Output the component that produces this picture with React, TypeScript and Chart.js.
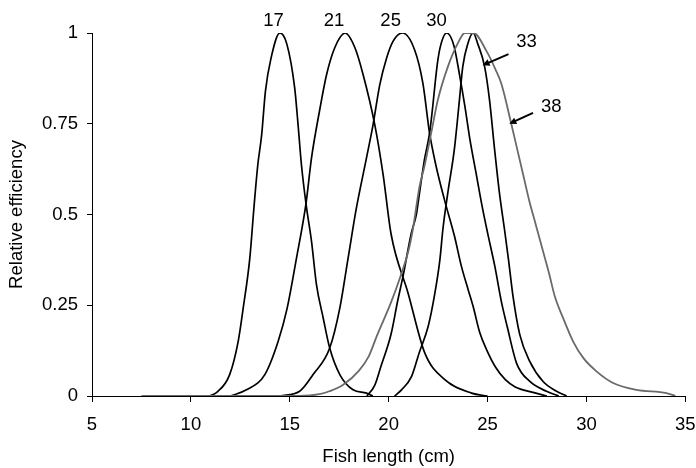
import React, { useEffect, useRef } from "react";
import { Chart, registerables } from "chart.js";
Chart.register(...registerables);

// Fish length (cm) and relative efficiency, per mesh size
const len17 = [10.5, 10.8, 11.37, 11.96, 12.39, 12.64, 12.98, 13.19, 13.38, 13.58, 13.77, 14.05, 14.5, 14.86, 15.25, 15.42, 15.59, 15.82, 16.1, 16.35, 16.69, 17.02, 17.53, 18.2, 18.88, 19.2];
const eff17 = [0, 0, 0.013, 0.059, 0.15, 0.24, 0.38, 0.52, 0.635, 0.72, 0.84, 0.93, 1.0, 0.968, 0.848, 0.747, 0.637, 0.53, 0.426, 0.307, 0.215, 0.132, 0.059, 0.017, 0.008, 0];

const len21 = [12.0, 12.81, 13.74, 14.41, 14.86, 15.34, 15.82, 16.1, 16.52, 16.86, 17.28, 17.8, 18.29, 18.71, 19.3, 19.72, 20.12, 20.98, 21.83, 22.84, 24.19, 25.0];
const eff21 = [0, 0.017, 0.059, 0.15, 0.24, 0.38, 0.53, 0.656, 0.79, 0.885, 0.96, 1.0, 0.96, 0.885, 0.747, 0.61, 0.447, 0.284, 0.118, 0.045, 0.008, 0];

const len25 = [14.5, 15.5, 16.18, 17.02, 17.53, 17.95, 18.37, 18.88, 19.21, 19.55, 19.89, 20.22, 20.7, 21.31, 21.73, 22.07, 22.4, 22.82, 23.33, 23.68, 24.02, 24.27, 24.61, 24.95, 25.4, 25.9, 26.4, 27.3, 28.0];
const eff25 = [0, 0.013, 0.059, 0.132, 0.242, 0.38, 0.518, 0.656, 0.747, 0.857, 0.93, 0.977, 1.0, 0.954, 0.862, 0.724, 0.633, 0.541, 0.44, 0.357, 0.293, 0.247, 0.174, 0.128, 0.08, 0.045, 0.025, 0.01, 0];

const len30 = [18.9, 19.3, 19.6, 20.12, 20.46, 20.72, 21.14, 21.4, 21.56, 21.81, 22.07, 22.23, 22.35, 22.49, 22.65, 22.93, 23.3, 23.6, 23.85, 24.1, 24.4, 24.7, 25.0, 25.37, 25.7, 26.0, 26.47, 27.14, 27.98, 28.6];
const eff30 = [0, 0.03, 0.08, 0.17, 0.263, 0.328, 0.447, 0.5, 0.559, 0.651, 0.724, 0.798, 0.862, 0.926, 0.97, 1.0, 0.965, 0.88, 0.8, 0.71, 0.62, 0.53, 0.45, 0.357, 0.26, 0.19, 0.09, 0.04, 0.013, 0];

const len33 = [20.3, 20.65, 21.16, 21.55, 22.0, 22.34, 22.59, 22.74, 22.99, 23.33, 23.58, 23.75, 24.0, 24.27, 24.52, 24.85, 25.1, 25.35, 25.6, 25.86, 26.05, 26.3, 26.63, 27.14, 27.81, 28.49, 29.0];
const eff33 = [0, 0.017, 0.054, 0.12, 0.192, 0.284, 0.375, 0.458, 0.559, 0.683, 0.816, 0.908, 0.97, 1.0, 0.968, 0.908, 0.816, 0.683, 0.56, 0.458, 0.38, 0.27, 0.169, 0.095, 0.04, 0.013, 0];

const len38 = [7.5, 15.5, 16.5, 17.0, 17.7, 18.5, 19.0, 19.4, 20.1, 20.6, 21.0, 21.22, 21.56, 21.81, 22.15, 22.49, 23.0, 23.5, 23.85, 24.3, 24.95, 25.4, 25.7, 26.2, 26.5, 26.8, 27.1, 27.45, 27.8, 28.1, 28.4, 28.82, 29.33, 29.84, 30.51, 31.35, 32.54, 34.05, 34.5];
const eff38 = [0, 0, 0.005, 0.013, 0.031, 0.07, 0.11, 0.165, 0.255, 0.33, 0.4, 0.458, 0.577, 0.633, 0.724, 0.816, 0.908, 0.972, 1.0, 1.0, 0.95, 0.9, 0.86, 0.75, 0.68, 0.61, 0.54, 0.47, 0.4, 0.34, 0.275, 0.215, 0.15, 0.105, 0.068, 0.036, 0.017, 0.008, 0];

const xTicks = [5, 10, 15, 20, 25, 30, 35];
const yTicks = [0, 0.25, 0.5, 0.75, 1];

// curve labels (text, x, y)
const peakLabels = ["17", "21", "25", "30"];
const peakLabelX = [14.18, 17.24, 20.1, 22.42];
const peakLabelY = [1.032, 1.032, 1.032, 1.032];
const arrowLabels = ["33", "38"];
const arrowLabelX = [26.97, 28.22];
const arrowLabelY = [0.975, 0.796];
const arrowFromX = [26.06, 27.3];
const arrowFromY = [0.942, 0.78];
const arrowToX = [24.75, 26.1];
const arrowToY = [0.911, 0.75];

const FONT = '"Liberation Sans", Arial, sans-serif';
const FS = 18.5;

const toPts = (xs: number[], ys: number[]) => xs.map((x, i) => ({ x, y: ys[i] }));

const annotPlugin = {
  id: "annot",
  afterDatasetsDraw(chart: any) {
    const { ctx, scales } = chart;
    const sx = scales.x;
    const sy = scales.y;
    ctx.save();
    ctx.font = `${FS}px ${FONT}`;
    ctx.fillStyle = "#000";
    ctx.textAlign = "center";
    ctx.textBaseline = "middle";
    peakLabels.forEach((t, i) => {
      ctx.fillText(t, sx.getPixelForValue(peakLabelX[i]), sy.getPixelForValue(peakLabelY[i]));
    });
    arrowLabels.forEach((t, i) => {
      ctx.fillText(t, sx.getPixelForValue(arrowLabelX[i]), sy.getPixelForValue(arrowLabelY[i]));
      const x1 = sx.getPixelForValue(arrowFromX[i]);
      const y1 = sy.getPixelForValue(arrowFromY[i]);
      const x2 = sx.getPixelForValue(arrowToX[i]);
      const y2 = sy.getPixelForValue(arrowToY[i]);
      const ang = Math.atan2(y2 - y1, x2 - x1);
      const hl = 7;
      const hw = 3.5;
      ctx.strokeStyle = "#000";
      ctx.lineWidth = 2;
      ctx.beginPath();
      ctx.moveTo(x1, y1);
      ctx.lineTo(x2 - Math.cos(ang) * hl * 0.8, y2 - Math.sin(ang) * hl * 0.8);
      ctx.stroke();
      ctx.beginPath();
      ctx.moveTo(x2, y2);
      ctx.lineTo(x2 - Math.cos(ang) * hl - Math.sin(ang) * hw, y2 - Math.sin(ang) * hl + Math.cos(ang) * hw);
      ctx.lineTo(x2 - Math.cos(ang) * hl + Math.sin(ang) * hw, y2 - Math.sin(ang) * hl - Math.cos(ang) * hw);
      ctx.closePath();
      ctx.fill();
    });
    ctx.restore();
  },
};

export default function App() {
  const ref = useRef<HTMLCanvasElement | null>(null);
  useEffect(() => {
    if (!ref.current) return;
    const mk = (xs: number[], ys: number[], color: string, w: number) => ({
      data: toPts(xs, ys),
      borderColor: color,
      borderWidth: w,
      pointRadius: 0,
      fill: false,
      cubicInterpolationMode: "monotone" as const,
    });
    const chart = new Chart(ref.current, {
      type: "line",
      data: {
        datasets: [
          mk(len38, eff38, "#6a6a6a", 1.8),
          mk(len17, eff17, "#000", 1.7),
          mk(len21, eff21, "#000", 1.7),
          mk(len25, eff25, "#000", 1.7),
          mk(len30, eff30, "#000", 1.7),
          mk(len33, eff33, "#000", 1.7),
        ],
      },
      options: {
        responsive: false,
        animation: false,
        layout: { padding: { top: 33, right: 10.7, left: 0, bottom: 0 } },
        plugins: { legend: { display: false }, tooltip: { enabled: false } },
        scales: {
          x: {
            type: "linear",
            min: xTicks[0],
            max: xTicks[xTicks.length - 1],
            afterBuildTicks: (s: any) => {
              s.ticks = xTicks.map((v) => ({ value: v }));
            },
            ticks: {
              color: "#000",
              font: { family: FONT, size: FS },
              padding: 12,
              maxRotation: 0,
              callback: (v: any) => String(v),
            },
            grid: { drawOnChartArea: false, drawTicks: true, tickLength: 6, color: "#000" },
            border: { color: "#000", width: 1 },
            title: {
              display: true,
              text: "Fish length (cm)",
              color: "#000",
              font: { family: FONT, size: FS },
              padding: { top: 0, bottom: 0 },
            },
            afterFit: (s: any) => {
              s.height = 72;
              s.paddingLeft = 0;
              s.paddingRight = 0;
            },
          },
          y: {
            type: "linear",
            min: yTicks[0],
            max: yTicks[yTicks.length - 1],
            afterBuildTicks: (s: any) => {
              s.ticks = yTicks.map((v) => ({ value: v }));
            },
            ticks: {
              color: "#000",
              font: { family: FONT, size: FS },
              padding: 9,
              callback: (v: any) => String(v),
            },
            grid: { drawOnChartArea: false, drawTicks: true, tickLength: 5, color: "#000" },
            border: { color: "#000", width: 1 },
            title: {
              display: true,
              text: "Relative efficiency",
              color: "#000",
              font: { family: FONT, size: FS },
              padding: { top: 6, bottom: 0 },
            },
            afterFit: (s: any) => {
              s.width = 92;
              s.paddingTop = 0;
              s.paddingBottom = 0;
            },
          },
        },
      },
      plugins: [annotPlugin],
    });
    return () => chart.destroy();
  }, []);
  return (
    <div style={{ position: "fixed", left: 0, top: 0, width: 696, height: 468, background: "#fff" }}>
      <canvas ref={ref} width={696} height={468} style={{ display: "block" }} />
    </div>
  );
}
